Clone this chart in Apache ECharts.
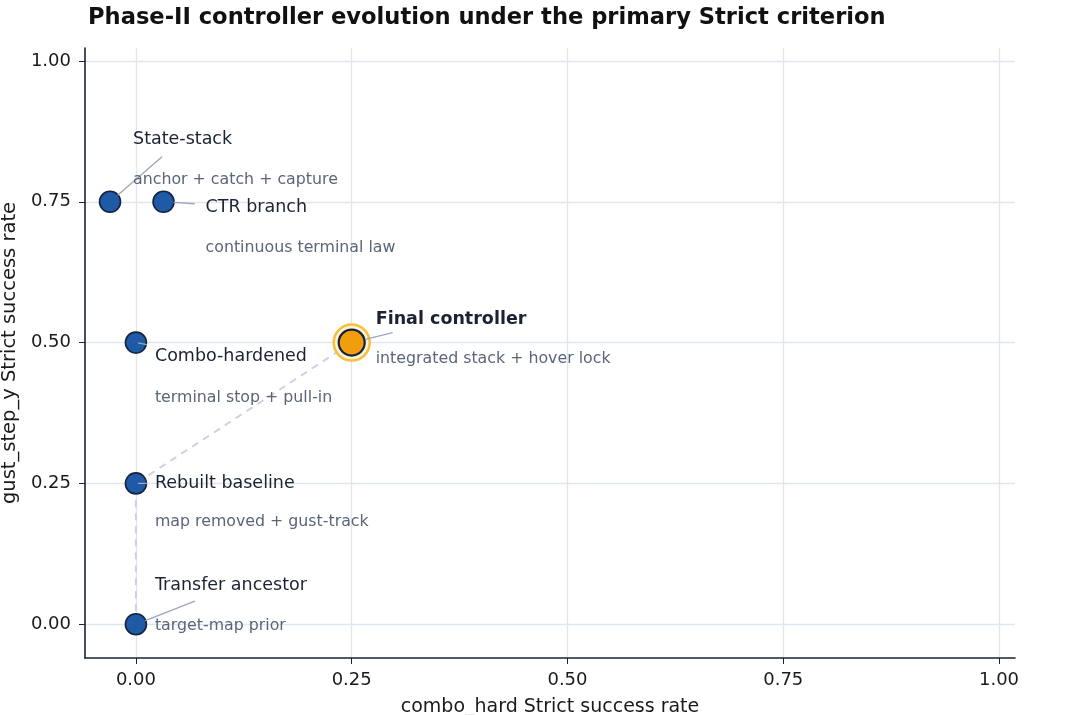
<!DOCTYPE html>
<html>
<head>
<meta charset="utf-8">
<script src="https://cdn.jsdelivr.net/npm/echarts@6/dist/echarts.min.js"></script>
<style>
html,body{margin:0;padding:0;background:#fff;}
#chart{width:1075px;height:715px;}
</style>
</head>
<body>
<div id="chart"></div>
<script>
// ---- data ----
const controllers = ['Transfer ancestor', 'Rebuilt baseline', 'Combo-hardened', 'State-stack', 'CTR branch', 'Final controller'];
const descriptions = ['target-map prior', 'map removed + gust-track', 'terminal stop + pull-in', 'anchor + catch + capture', 'continuous terminal law', 'integrated stack + hover lock'];
const comboHardRate = [0.0, 0.0, 0.0, -0.03, 0.032, 0.25];
const gustStepYRate = [0.0, 0.25, 0.5, 0.75, 0.75, 0.5];
const trajectory = ['Transfer ancestor', 'Rebuilt baseline', 'Final controller'];
const finalName = 'Final controller';
const tickValues = [0, 0.25, 0.5, 0.75, 1.0];

// ---- label placement (pixel offsets from each point; style only) ----
const annoStyle = {
  'Transfer ancestor': {gap: 10, lx: 59, ly: -23, tx: 19, ty: -39, sy: 2},
  'Rebuilt baseline':  {gap: 2,  lx: 11, ly: 0,   tx: 19, ty: 0,   sy: 39},
  'Combo-hardened':    {gap: 2,  lx: 11, ly: 2,   tx: 19, ty: 14,  sy: 55},
  'State-stack':       {gap: 10, lx: 52, ly: -45, tx: 23, ty: -62, sy: -22},
  'CTR branch':        {gap: 10, lx: 31, ly: 2,   tx: 42, ty: 6,   sy: 46},
  'Final controller':  {gap: 14, lx: 41, ly: -10, tx: 24, ty: -23, sy: 16}
};

const FONT = '"DejaVu Sans", Verdana, sans-serif';
const chart = echarts.init(document.getElementById('chart'), null, {renderer: 'canvas'});

const pts = controllers.map((n, i) => [comboHardRate[i], gustStepYRate[i], i]);
const bluePts = pts.filter(p => controllers[p[2]] !== finalName);
const finalPts = pts.filter(p => controllers[p[2]] === finalName);
const trajPts = trajectory.map(n => { const i = controllers.indexOf(n); return [comboHardRate[i], gustStepYRate[i]]; });

const axisCommon = {
  axisLine: {show: true, onZero: false, lineStyle: {color: '#1a2233', width: 1.6}},
  axisTick: {show: true, length: 6, inside: false, customValues: tickValues, lineStyle: {color: '#1a2233', width: 1}},
  axisLabel: {customValues: tickValues, color: '#1a1a1a', fontFamily: FONT, fontSize: 18,
              formatter: v => v.toFixed(2)},
  splitLine: {show: true, lineStyle: {color: '#e0e6ee', width: 1.3}},
  nameLocation: 'middle',
  nameTextStyle: {color: '#1a1a1a', fontFamily: FONT, fontSize: 19}
};

const option = {
  backgroundColor: '#ffffff',
  animation: false,
  title: {
    text: 'Phase-II controller evolution under the primary Strict criterion',
    left: 83, top: 2,
    textStyle: {fontFamily: FONT, fontWeight: 'bold', fontSize: 22.6, color: '#111111'}
  },
  grid: {left: 85, right: 60, top: 48, bottom: 57, containLabel: false, outerBoundsMode: 'none'},
  xAxis: Object.assign({}, axisCommon, {
    type: 'value', min: -0.059, max: 1.0185,
    name: 'combo_hard Strict success rate', nameGap: 40,
    axisLabel: Object.assign({}, axisCommon.axisLabel, {margin: 13})
  }),
  yAxis: Object.assign({}, axisCommon, {
    type: 'value', min: -0.06, max: 1.023,
    name: 'gust_step_y Strict success rate', nameGap: 10,
    nameTextStyle: Object.assign({}, axisCommon.nameTextStyle, {fontSize: 19.5}),
    axisLabel: Object.assign({}, axisCommon.axisLabel, {margin: 14})
  }),
  series: [
    {
      type: 'line', data: trajPts, symbol: 'none', z: 1, silent: true,
      lineStyle: {color: '#cdd1e2', width: 2, type: [7, 6]}
    },
    {
      type: 'scatter', data: bluePts, symbol: 'circle', symbolSize: 21, z: 3,
      itemStyle: {color: '#1f5aa6', borderColor: '#15233d', borderWidth: 1.6, opacity: 1}
    },
    {
      type: 'scatter', data: finalPts, symbol: 'circle', symbolSize: 36, z: 3,
      itemStyle: {color: '#fdf3d6', borderColor: '#f5c03a', borderWidth: 2.5, opacity: 1}
    },
    {
      type: 'scatter', data: finalPts, symbol: 'circle', symbolSize: 26, z: 4,
      itemStyle: {color: '#f29e0c', borderColor: '#15233d', borderWidth: 2.2, opacity: 1}
    },
    {
      type: 'custom', data: pts, z: 5, silent: true,
      renderItem: function (params, api) {
        const idx = api.value(2);
        const name = controllers[idx];
        const s = annoStyle[name];
        const p = api.coord([api.value(0), api.value(1)]);
        const dx = s.lx, dy = s.ly, len = Math.sqrt(dx * dx + dy * dy);
        const isFinal = name === finalName;
        return {
          type: 'group',
          children: [
            {type: 'line', shape: {x1: p[0] + dx / len * s.gap, y1: p[1] + dy / len * s.gap, x2: p[0] + dx, y2: p[1] + dy},
             style: {stroke: '#9ba6b9', lineWidth: 1.3}},
            {type: 'text', style: {x: p[0] + s.tx, y: p[1] + s.ty, text: name, fill: '#1a2233',
              font: (isFinal ? 'bold ' : '') + '17.5px ' + FONT, verticalAlign: 'middle', align: 'left'}},
            {type: 'text', style: {x: p[0] + s.tx, y: p[1] + s.sy, text: descriptions[idx], fill: '#5b6579',
              font: '15.8px ' + FONT, verticalAlign: 'middle', align: 'left'}}
          ]
        };
      }
    }
  ]
};
chart.setOption(option);
</script>
</body>
</html>
